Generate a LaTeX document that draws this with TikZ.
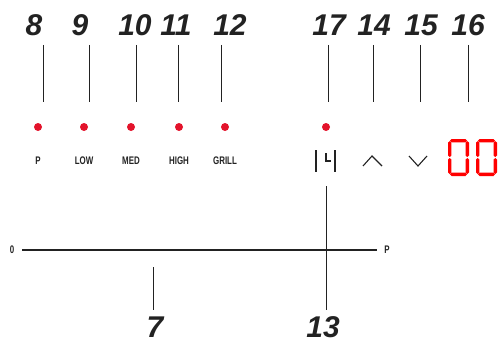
\documentclass[tikz,border=0pt]{standalone}
\usepackage{fontspec}
\setmainfont{Liberation Sans}
\newfontfamily\narrowfont[FakeStretch=0.72]{Liberation Sans}
\definecolor{ledred}{HTML}{E3132B}
\definecolor{segred}{HTML}{FF0000}
\definecolor{ink}{HTML}{222222}
\tikzset{
  num/.style={font=\fontsize{30}{30}\selectfont\bfseries\itshape, text=ink, inner sep=0},
  lab/.style={font=\narrowfont\fontsize{11}{11}\selectfont\bfseries, text=ink, inner sep=0},
  lead/.style={draw=ink, line width=0.9},
  led/.style={fill=ledred, circle, minimum size=8, inner sep=0},
  icon/.style={draw=ink, line width=1.1},
  segh/.pic={\fill[segred] (-8.6,0) -- (-7,-1.7) -- (7,-1.7) -- (8.6,0) -- (7,1.7) -- (-7,1.7) -- cycle;},
  segv/.pic={\fill[segred] (0,-8) -- (-1.7,-6.4) -- (-1.7,6.4) -- (0,8) -- (1.7,6.4) -- (1.7,-6.4) -- cycle;}
}
\begin{document}
\begin{tikzpicture}[x=1pt,y=-1pt]
\useasboundingbox (0,0) rectangle (500,342);
% top numbers
\node[num] (n8) at (34,25) {8};
\node[num] (n9) at (80,25) {9};
\node[num] (n10) at (135,25) {10};
\node[num] (n11) at (176,25) {11};
\node[num] (n12) at (230,25) {12};
\node[num] (n17) at (329,25) {17};
\node[num] (n14) at (374,25) {14};
\node[num] (n15) at (421,25) {15};
\node[num] (n16) at (468,25) {16};
% leader lines
\foreach \n/\x in {8/43,9/89,10/136,11/178,12/221,17/328,14/373,15/420,16/468}{
  \coordinate (a\n) at (\x,45);
  \coordinate (b\n) at (\x,102);
  \draw[lead] (a\n) -- (b\n);
}
% LEDs
\node[led] (d8) at (38,127) {};
\node[led] (d9) at (84,127) {};
\node[led] (d10) at (131,127) {};
\node[led] (d11) at (179,127) {};
\node[led] (d12) at (225,127) {};
\node[led] (d17) at (326,127) {};
% labels
\node[lab] (tP) at (38,161) {P};
\node[lab] (tLOW) at (84,161) {LOW};
\node[lab] (tMED) at (131,161) {MED};
\node[lab] (tHIGH) at (179,161) {HIGH};
\node[lab] (tGRILL) at (225,161) {GRILL};
% |L| icon
\draw[icon] (316,150) -- (316,172);
\draw[icon] (335,150) -- (335,172);
\draw[icon] (326,153) -- (326,161) -- (330.5,161);
% arrows
\draw[icon] (363,166) -- (372,156) -- (382,166);
\draw[icon] (409,156) -- (418,166) -- (427,156);
% seven segment 00
\foreach \ox in {448,476}{
  \pic at (\ox+10.5,140.7) {segh};
  \pic at (\ox+10.5,174.3) {segh};
  \pic at (\ox+1.7,149.1) {segv};
  \pic at (\ox+1.7,166.0) {segv};
  \pic at (\ox+19.3,149.1) {segv};
  \pic at (\ox+19.3,166.0) {segv};
}
% bottom slider
\node[lab] (zero) at (12,250) {0};
\node[lab] (pee) at (387,250) {P};
\draw[draw=ink, line width=1.3, shorten <=7.6pt, shorten >=7.2pt] (zero) -- (pee);
\coordinate (t13) at (326,186);
\coordinate (t7) at (153,267);
\node[num] (n7) at (155,327) {7};
\node[num] (n13) at (323,327) {13};
\coordinate (e7) at (153,310);
\coordinate (e13) at (326,310);
\draw[lead] (t7) -- (e7);
\draw[lead] (t13) -- (e13);
\end{tikzpicture}
\end{document}
